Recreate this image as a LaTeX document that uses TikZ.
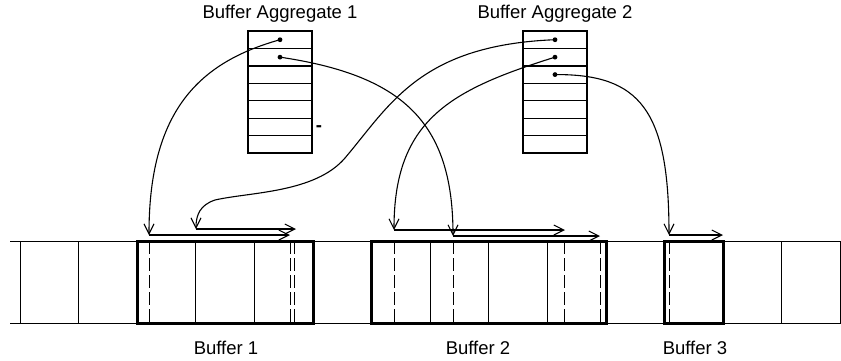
\documentclass[tikz,border=0pt]{standalone}
\usepackage{fontspec}
\setmainfont{Liberation Sans}
\usetikzlibrary{arrows.meta,positioning}

\begin{document}
\begin{tikzpicture}[x=1pt,y=-1pt]
\tikzstyle{every node}+=[inner sep=0pt,font=\fontsize{18.5}{22}\selectfont]
\tikzstyle{cell}=[draw=black,line width=1.3pt,minimum width=64pt,minimum height=17.43pt]
\tikzstyle{bufbox}=[draw=black,line width=3pt,minimum height=82pt]
\tikzstyle{ptr}=[black,line width=1.1pt,-{Straight Barb[length=10pt,width=10pt]}]
\tikzstyle{slot}=[black,line width=1pt,dash pattern=on 13pt off 4pt]
\useasboundingbox (0,0) rectangle (841,360);
% buffer aggregates
\foreach \i in {1,...,7} {
  \node [cell] (a\i) at (280,{31+17.43*(\i-0.5)}) {};
  \node [cell] (b\i) at (555,{31+17.43*(\i-0.5)}) {};
}
\node [above=8pt of a1] (agg1) {Buffer Aggregate 1};
\node [above=8pt of b1] (agg2) {Buffer Aggregate 2};
\node (dash1) at (319,129) {\textbf{-}};
\fill [black] (a1.center) circle (2.4pt);
\fill [black] (a2.center) circle (2.4pt);
\fill [black] (b1.center) circle (2.4pt);
\fill [black] (b2.center) circle (2.4pt);
\fill [black] (b3.center) circle (2.4pt);
% memory strip
\draw [black,line width=1pt] (10,241) -- (841,241);
\draw [black,line width=1pt] (10,323) -- (841,323);
\foreach \k in {0,...,14}
  \draw [black,line width=1pt] ({20+58.6*\k},241) -- ++(0,82);
\foreach \x in {149,290,294,394,453,564,600,669}
  \draw [slot] (\x,241) -- (\x,323);
\node [bufbox,minimum width=175.8pt] (buf1) at (225.1,282) {};
\node [bufbox,minimum width=234.4pt] (buf2) at (488.8,282) {};
\node [bufbox,minimum width=58.6pt] (buf3) at (693.9,282) {};
\node [anchor=base] (lab1) at (226,354) {Buffer 1};
\node [anchor=base] (lab2) at (478,354) {Buffer 2};
\node [anchor=base] (lab3) at (695,354) {Buffer 3};
% pointer ends
\coordinate (s1) at (149,235);
\coordinate (e1) at (290,235);
\coordinate (s2) at (196,229);
\coordinate (e2) at (296,229);
\coordinate (s3) at (394,230);
\coordinate (e3) at (565,230);
\coordinate (s4) at (453,236);
\coordinate (e4) at (600,236);
\coordinate (s5) at (669,235);
\coordinate (e5) at (723,235);
\draw [ptr] (s1) -- (e1);
\draw [ptr] (s2) -- (e2);
\draw [ptr] (s3) -- (e3);
\draw [ptr] (s4) -- (e4);
\draw [ptr] (s5) -- (e5);
% pointers
\draw [ptr] (a1.center) .. controls (200,62) and (149,110) .. (s1);
\draw [ptr] (a2.center) .. controls (400,75) and (453,120) .. (s4);
\draw [ptr] (b1.center) .. controls (420,45) and (390,105) .. (345,158) .. controls (315,193) and (250,192) .. (215,200) .. controls (200,205) and (196,215) .. (s2);
\draw [ptr] (b2.center) .. controls (450,90) and (394,120) .. (s3);
\draw [ptr] (b3.center) .. controls (640,74) and (669,110) .. (s5);
\end{tikzpicture}
\end{document}
